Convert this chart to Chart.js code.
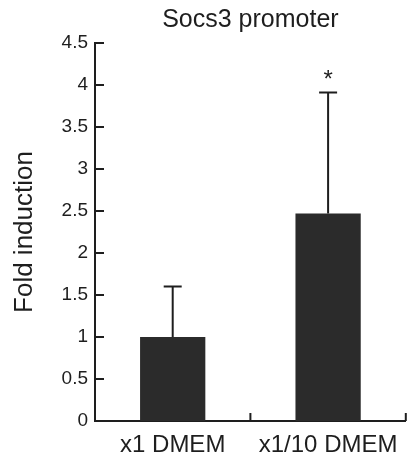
<!DOCTYPE html>
<html lang="en">
<head>
<meta charset="UTF-8">
<title>Socs3 promoter</title>
<script src="https://cdn.jsdelivr.net/npm/chart.js@4.4.0/dist/chart.umd.min.js"></script>
<style>
    html, body { margin: 0; padding: 0; background: #fff; }
    .chart-box { width: 408px; height: 461px; }
</style>
</head>
<body>
<div class="chart-box"><canvas id="socsChart"></canvas></div>
<script>
// Data
const categories = ['x1 DMEM', 'x1/10 DMEM'];
const foldValues = [1.0, 2.47];
const errValues = [0.6, 1.44];
const sigMarks = ['', '*'];
const yMin = 0, yMax = 4.5, yStep = 0.5;

const ink = '#1e1e1e';
const fontFam = '"Liberation Sans", Arial, Helvetica, sans-serif';

// error bars, caps and the significance star
const errorBars = {
    id: 'errorBars',
    afterDatasetsDraw(chart) {
        const ctx = chart.ctx;
        const y = chart.scales.y;
        const meta = chart.getDatasetMeta(0);
        ctx.save();
        ctx.strokeStyle = ink;
        ctx.lineWidth = 2;
        meta.data.forEach((bar, i) => {
            const top = y.getPixelForValue(foldValues[i] + errValues[i]);
            ctx.beginPath();
            ctx.moveTo(bar.x, bar.y);
            ctx.lineTo(bar.x, top);
            ctx.moveTo(bar.x - 9, top);
            ctx.lineTo(bar.x + 9, top);
            ctx.stroke();
            if (sigMarks[i]) {
                ctx.fillStyle = ink;
                ctx.font = '24px ' + fontFam;
                ctx.textAlign = 'center';
                ctx.textBaseline = 'alphabetic';
                ctx.fillText(sigMarks[i], bar.x, top - 6);
            }
        });
        ctx.restore();
    }
};

// tick marks pointing into the plot
const innerTicks = {
    id: 'innerTicks',
    afterDraw(chart) {
        const ctx = chart.ctx;
        const x = chart.scales.x, y = chart.scales.y;
        const area = chart.chartArea;
        ctx.save();
        ctx.strokeStyle = ink;
        ctx.lineWidth = 2;
        ctx.beginPath();
        y.ticks.forEach(t => {
            const py = y.getPixelForValue(t.value);
            ctx.moveTo(area.left, py);
            ctx.lineTo(area.left + 9, py);
        });
        const step = x.width / categories.length;
        categories.forEach((c, i) => {
            const px = x.getPixelForTick(i) + step / 2;
            ctx.moveTo(px, area.bottom);
            ctx.lineTo(px, area.bottom - 8);
        });
        ctx.stroke();
        ctx.restore();
    }
};

new Chart(document.getElementById('socsChart'), {
    type: 'bar',
    data: {
        labels: categories,
        datasets: [{
            data: foldValues,
            backgroundColor: '#2b2b2b',
            borderWidth: 0,
            categoryPercentage: 1.0,
            barPercentage: 0.42
        }]
    },
    options: {
        responsive: true,
        maintainAspectRatio: false,
        animation: false,
        layout: { padding: { left: 0, right: 1, top: 0, bottom: 0 } },
        plugins: {
            legend: { display: false },
            tooltip: { enabled: false },
            title: {
                display: true,
                text: 'Socs3 promoter',
                fullSize: false,
                color: ink,
                font: { family: fontFam, size: 25, weight: 'normal' },
                padding: { top: 5, bottom: 8 }
            }
        },
        scales: {
            x: {
                grid: { display: false, drawTicks: false },
                border: { display: true, color: ink, width: 2 },
                ticks: { color: ink, padding: 10, font: { family: fontFam, size: 24 } },
                afterFit(s) { s.height = 40; }
            },
            y: {
                min: yMin,
                max: yMax,
                grid: { display: false, drawTicks: false },
                border: { display: true, color: ink, width: 2 },
                ticks: {
                    stepSize: yStep,
                    color: ink,
                    padding: 7,
                    font: { family: fontFam, size: 19 },
                    callback: v => String(Number(v.toFixed(1)))
                },
                title: {
                    display: true,
                    text: 'Fold induction',
                    color: ink,
                    font: { family: fontFam, size: 26 },
                    padding: { top: 9, bottom: 0 }
                },
                afterFit(s) { s.width = 95; }
            }
        }
    },
    plugins: [errorBars, innerTicks]
});
</script>
</body>
</html>
